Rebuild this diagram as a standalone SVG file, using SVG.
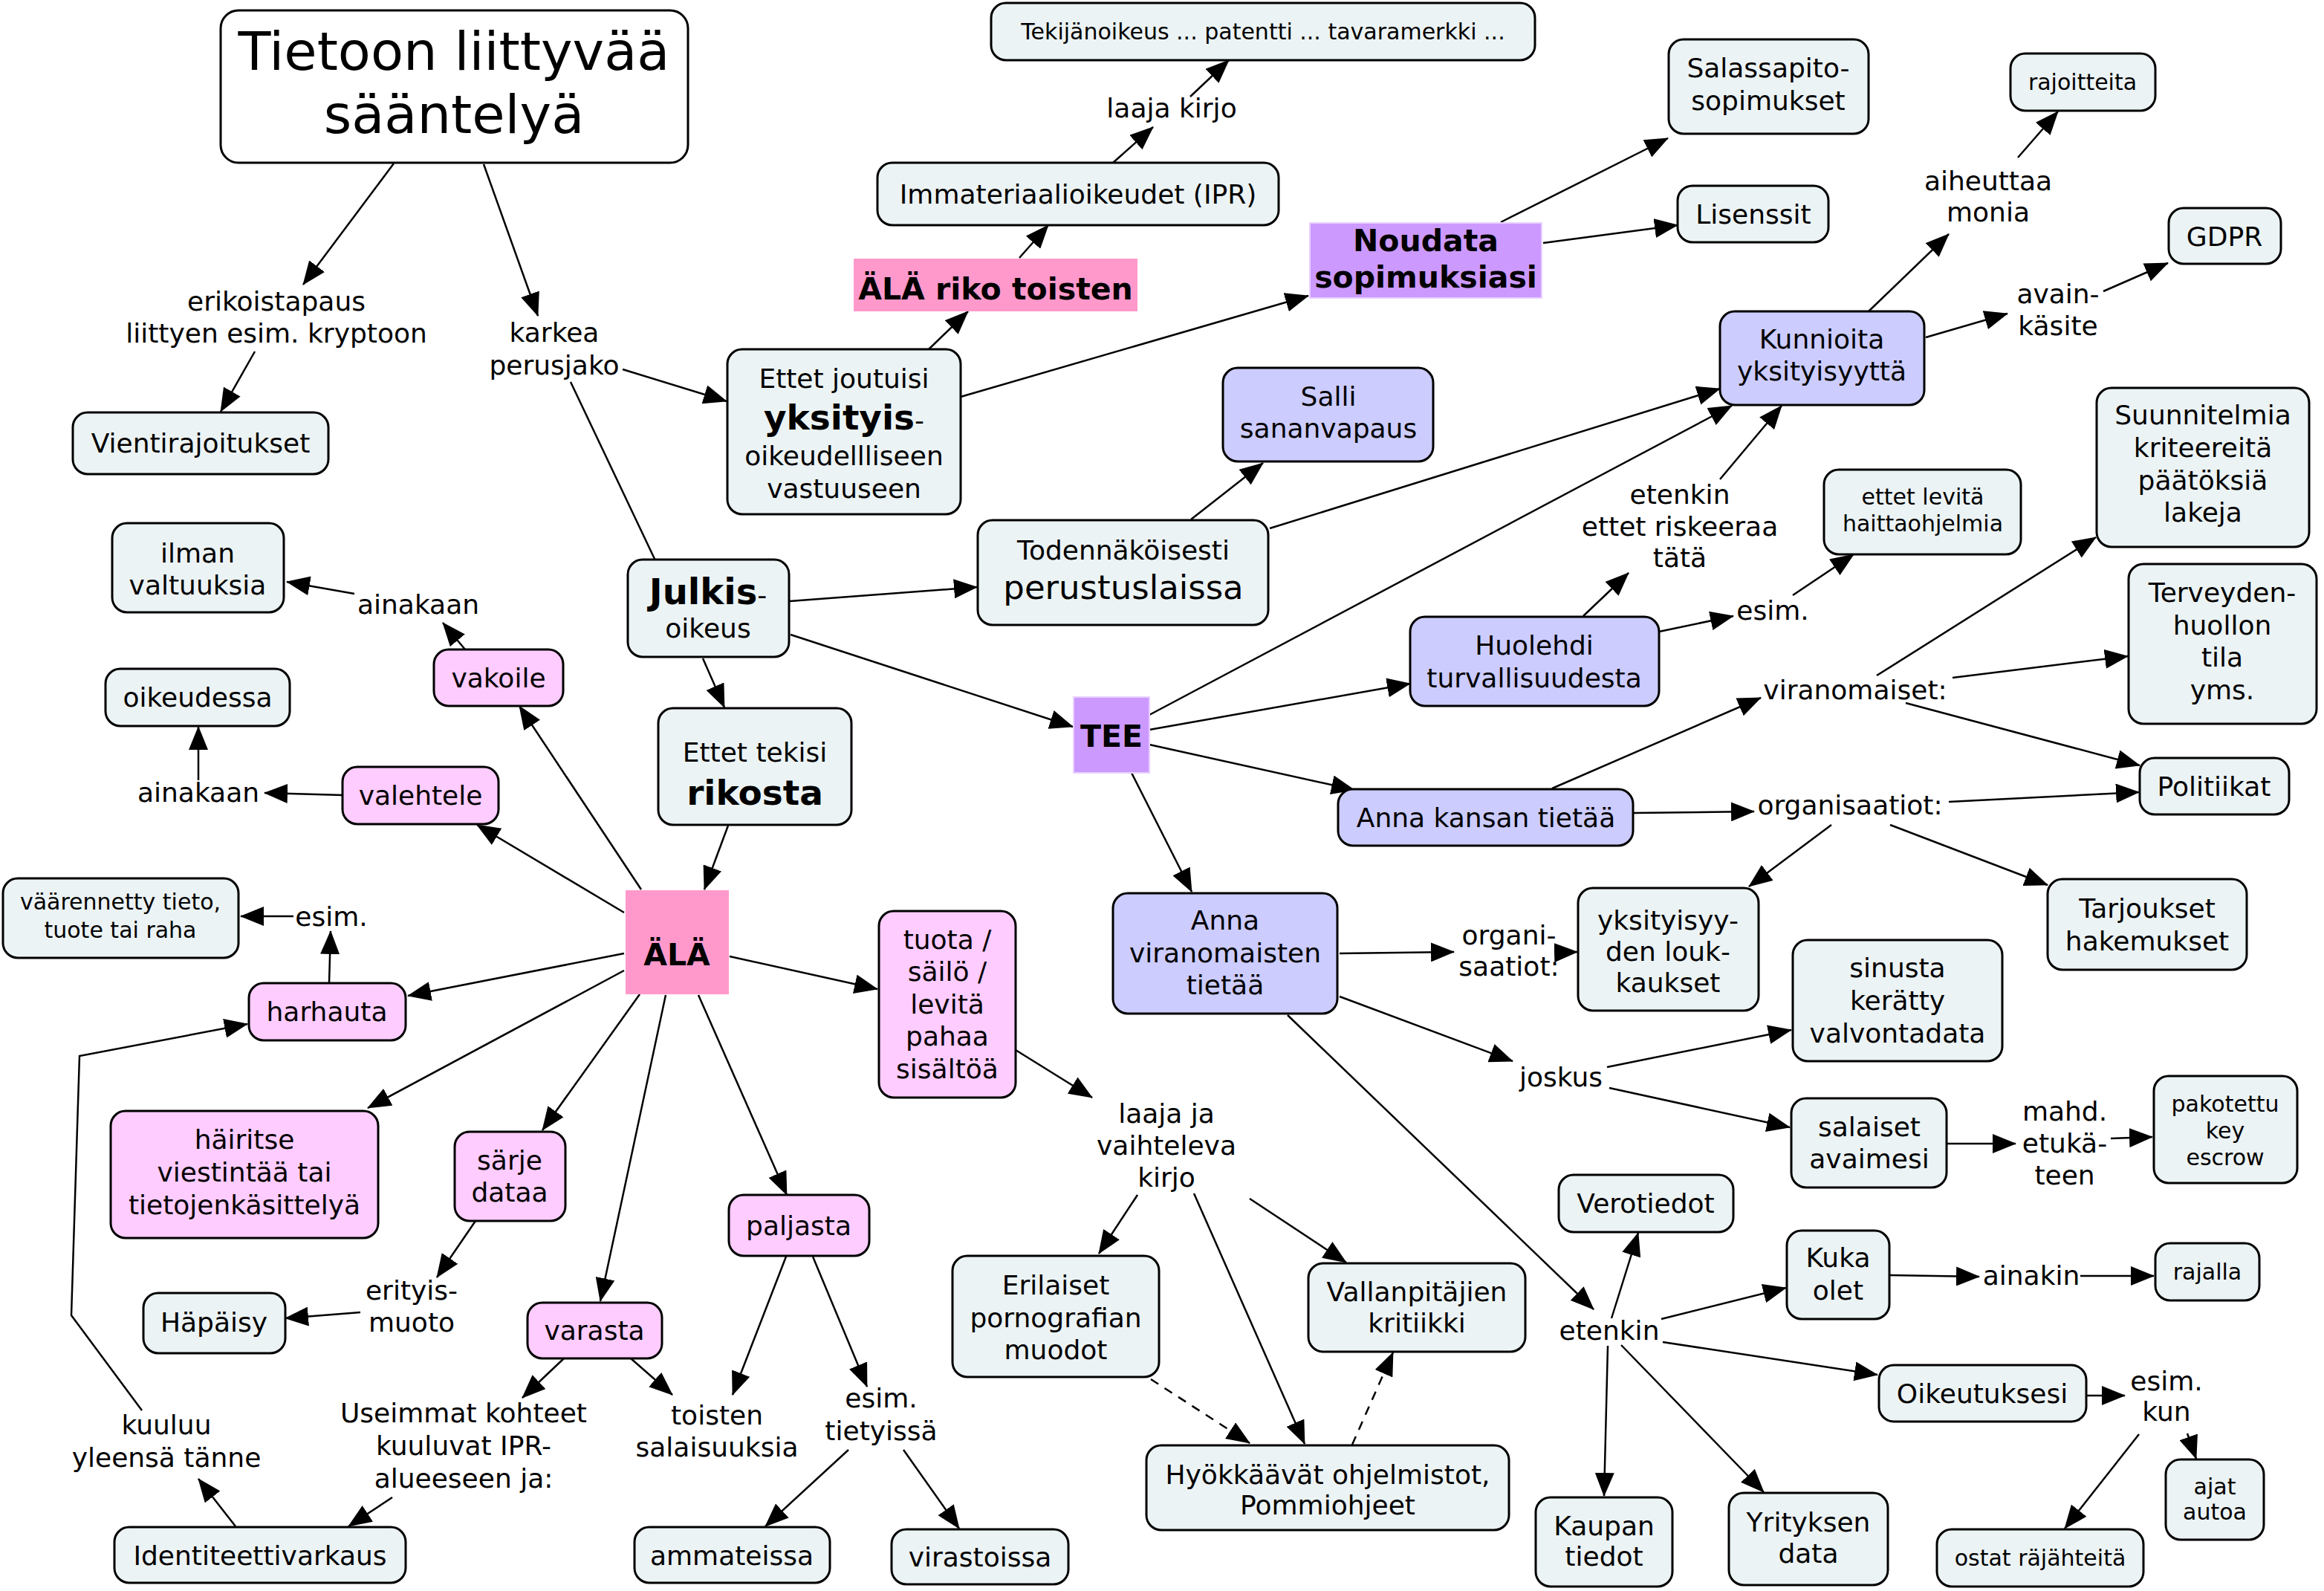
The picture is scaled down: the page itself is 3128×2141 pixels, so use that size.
<svg xmlns="http://www.w3.org/2000/svg" width="3128" height="2141" viewBox="0 0 3128 2141">
<defs>
<marker id="ah" viewBox="0 0 32 26" refX="31" refY="13" markerWidth="32" markerHeight="26" markerUnits="userSpaceOnUse" orient="auto"><path d="M0,0 L32,13 L0,26 z" fill="#000"/></marker>
<style>
text{font-family:"DejaVu Sans",Verdana,sans-serif;font-size:36px;text-anchor:middle;fill:#000}
.s{font-size:30px}
.b{font-weight:bold;font-size:41px}
.g rect{fill:#ECF3F4;stroke:#000;stroke-width:3}
.p rect{fill:#FFCCFF;stroke:#000;stroke-width:3}
.l rect{fill:#CCCCFF;stroke:#000;stroke-width:3}
.hp rect{fill:#FF99CC;stroke:none}
.pu rect{fill:#CC99FF;stroke:#E8D0FF;stroke-width:2}
#edges line,#edges polyline{stroke:#000;stroke-width:2.5;fill:none;marker-end:url(#ah)}
#edges .na{marker-end:none}
#edges .d{stroke-dasharray:12 10}
</style>
</defs>
<rect width="3128" height="2141" fill="#fff"/>
<g id="edges">
<line x1="530" y1="220" x2="408" y2="383"/>
<line x1="343" y1="473" x2="297" y2="554"/>
<line x1="651" y1="221" x2="724" y2="425"/>
<line x1="838" y1="497" x2="978" y2="540"/>
<line class="na" x1="768" y1="514" x2="881" y2="752"/>
<line x1="1249" y1="471" x2="1303" y2="419"/>
<line x1="1372" y1="347" x2="1411" y2="303"/>
<line x1="1498" y1="219" x2="1552" y2="171"/>
<line x1="1602" y1="130" x2="1654" y2="81"/>
<line x1="1293" y1="534" x2="1761" y2="398"/>
<line x1="2020" y1="299" x2="2245" y2="186"/>
<line x1="2077" y1="327" x2="2258" y2="303"/>
<line x1="1603" y1="699" x2="1700" y2="623"/>
<line x1="1709" y1="711" x2="2315" y2="523"/>
<line x1="1547" y1="962" x2="2331" y2="546"/>
<line x1="2131" y1="829" x2="2192" y2="771"/>
<line x1="2315" y1="645" x2="2398" y2="546"/>
<line x1="2233" y1="850" x2="2333" y2="829"/>
<line x1="2413" y1="801" x2="2495" y2="746"/>
<line x1="2515" y1="419" x2="2623" y2="315"/>
<line x1="2716" y1="212" x2="2770" y2="150"/>
<line x1="2592" y1="454" x2="2702" y2="422"/>
<line x1="2831" y1="392" x2="2918" y2="354"/>
<line x1="1063" y1="809" x2="1315" y2="790"/>
<line x1="1064" y1="854" x2="1444" y2="978"/>
<line x1="946" y1="886" x2="975" y2="952"/>
<line x1="980" y1="1111" x2="948" y2="1197"/>
<line x1="1547" y1="982" x2="1898" y2="920"/>
<line x1="1547" y1="1002" x2="1823" y2="1063"/>
<line x1="1523" y1="1040" x2="1604" y2="1200"/>
<line x1="2089" y1="1061" x2="2370" y2="939"/>
<line x1="2526" y1="909" x2="2821" y2="723"/>
<line x1="2628" y1="912" x2="2864" y2="883"/>
<line x1="2565" y1="946" x2="2880" y2="1030"/>
<line x1="2198" y1="1094" x2="2361" y2="1092"/>
<line x1="2623" y1="1079" x2="2879" y2="1066"/>
<line x1="2465" y1="1110" x2="2354" y2="1193"/>
<line x1="2544" y1="1110" x2="2756" y2="1191"/>
<line x1="1803" y1="1283" x2="1957" y2="1281"/>
<line x1="2093" y1="1282" x2="2123" y2="1281"/>
<line x1="1803" y1="1341" x2="2036" y2="1428"/>
<line x1="2163" y1="1436" x2="2411" y2="1386"/>
<line x1="2166" y1="1464" x2="2409" y2="1517"/>
<line x1="2620" y1="1539" x2="2713" y2="1539"/>
<line x1="2841" y1="1532" x2="2897" y2="1530"/>
<line x1="1733" y1="1366" x2="2145" y2="1762"/>
<line x1="2169" y1="1774" x2="2205" y2="1659"/>
<line x1="2236" y1="1775" x2="2404" y2="1733"/>
<line x1="2544" y1="1716" x2="2664" y2="1718"/>
<line x1="2800" y1="1717" x2="2899" y2="1717"/>
<line x1="2238" y1="1806" x2="2527" y2="1850"/>
<line x1="2808" y1="1878" x2="2860" y2="1878"/>
<line x1="2879" y1="1930" x2="2779" y2="2057"/>
<line x1="2944" y1="1929" x2="2956" y2="1963"/>
<line x1="2164" y1="1811" x2="2159" y2="2013"/>
<line x1="2182" y1="1810" x2="2374" y2="2008"/>
<line x1="863" y1="1197" x2="699" y2="950"/>
<line x1="626" y1="874" x2="596" y2="838"/>
<line x1="477" y1="799" x2="386" y2="783"/>
<line x1="840" y1="1228" x2="642" y2="1110"/>
<line x1="461" y1="1070" x2="356" y2="1067"/>
<line x1="267" y1="1050" x2="267" y2="978"/>
<line x1="840" y1="1283" x2="549" y2="1340"/>
<line x1="443" y1="1323" x2="445" y2="1253"/>
<line x1="395" y1="1233" x2="324" y2="1233"/>
<line x1="317" y1="2054" x2="267" y2="1990"/>
<polyline points="191,1898 96,1770 107,1421 333,1378"/>
<line x1="840" y1="1306" x2="495" y2="1491"/>
<line x1="861" y1="1338" x2="730" y2="1521"/>
<line x1="640" y1="1643" x2="588" y2="1719"/>
<line x1="485" y1="1766" x2="384" y2="1774"/>
<line x1="896" y1="1339" x2="808" y2="1751"/>
<line x1="759" y1="1828" x2="703" y2="1881"/>
<line x1="849" y1="1828" x2="905" y2="1877"/>
<line x1="528" y1="2015" x2="469" y2="2054"/>
<line x1="940" y1="1339" x2="1059" y2="1608"/>
<line x1="1058" y1="1691" x2="986" y2="1877"/>
<line x1="1094" y1="1691" x2="1167" y2="1866"/>
<line x1="1142" y1="1951" x2="1030" y2="2054"/>
<line x1="1216" y1="1951" x2="1291" y2="2057"/>
<line x1="982" y1="1287" x2="1181" y2="1331"/>
<line x1="1367" y1="1413" x2="1470" y2="1477"/>
<line x1="1531" y1="1608" x2="1479" y2="1687"/>
<line x1="1607" y1="1606" x2="1756" y2="1943"/>
<line x1="1682" y1="1613" x2="1812" y2="1699"/>
<line class="d" x1="1549" y1="1856" x2="1682" y2="1942"/>
<line class="d" x1="1820" y1="1944" x2="1875" y2="1820"/>
</g>
<g id="n-title"><rect x="297" y="14" width="629" height="205" rx="24" fill="#fff" stroke="#000" stroke-width="3"/><text x="611" y="94" style="font-size:72px">Tietoon liittyvää</text><text x="611" y="179" style="font-size:72px">sääntelyä</text></g>
<g id="n-vienti" class="g"><rect x="98" y="555" width="344" height="83" rx="20"/><text x="270" y="609">Vientirajoitukset</text></g>
<g id="l-erikois"><text x="372" y="418">erikoistapaus</text><text x="372" y="461">liittyen esim. kryptoon</text></g>
<g id="l-karkea"><text x="746" y="460">karkea</text><text x="746" y="504">perusjako</text></g>
<g id="n-yksityis" class="g"><rect x="979" y="470" width="314" height="222" rx="20"/><text x="1136" y="522">Ettet joutuisi</text><text x="1136" y="578"><tspan style="font-weight:bold;font-size:47px">yksityis</tspan>-</text><text x="1136" y="626">oikeudellliseen</text><text x="1136" y="670">vastuuseen</text></g>
<g id="n-alariko" class="hp"><rect x="1149" y="348" width="382" height="71"/><text class="b" x="1340" y="403">ÄLÄ riko toisten</text></g>
<g id="n-ipr" class="g"><rect x="1181" y="219" width="540" height="84" rx="20"/><text x="1451" y="274">Immateriaalioikeudet (IPR)</text></g>
<g id="l-laajakirjo"><text x="1577" y="158">laaja kirjo</text></g>
<g id="n-tekija" class="g"><rect x="1334" y="4" width="732" height="77" rx="20"/><text class="s" x="1700" y="53">Tekijänoikeus ... patentti ... tavaramerkki ...</text></g>
<g id="n-noudata" class="pu"><rect x="1763" y="300" width="312" height="101"/><text class="b" x="1919" y="338">Noudata</text><text class="b" x="1919" y="387">sopimuksiasi</text></g>
<g id="n-salassa" class="g"><rect x="2246" y="53" width="269" height="127" rx="20"/><text x="2380" y="104">Salassapito-</text><text x="2380" y="148">sopimukset</text></g>
<g id="n-lisenssit" class="g"><rect x="2258" y="250" width="203" height="76" rx="20"/><text x="2360" y="301">Lisenssit</text></g>
<g id="n-rajoitteita" class="g"><rect x="2706" y="72" width="195" height="77" rx="20"/><text class="s" x="2803" y="121">rajoitteita</text></g>
<g id="l-aiheuttaa"><text x="2676" y="256">aiheuttaa</text><text x="2676" y="298">monia</text></g>
<g id="n-gdpr" class="g"><rect x="2919" y="280" width="151" height="75" rx="20"/><text x="2994" y="331">GDPR</text></g>
<g id="l-avain"><text x="2770" y="408">avain-</text><text x="2770" y="451">käsite</text></g>
<g id="n-kunnioita" class="l"><rect x="2315" y="419" width="275" height="126" rx="20"/><text x="2452" y="469">Kunnioita</text><text x="2452" y="512">yksityisyyttä</text></g>
<g id="n-suunnitelmia" class="g"><rect x="2822" y="522" width="286" height="214" rx="20"/><text x="2965" y="571">Suunnitelmia</text><text x="2965" y="615">kriteereitä</text><text x="2965" y="659">päätöksiä</text><text x="2965" y="702">lakeja</text></g>
<g id="n-haitta" class="g"><rect x="2455" y="632" width="265" height="114" rx="20"/><text class="s" x="2588" y="679">ettet levitä</text><text class="s" x="2588" y="715">haittaohjelmia</text></g>
<g id="l-etenkin1"><text x="2261" y="678">etenkin</text><text x="2261" y="721">ettet riskeeraa</text><text x="2261" y="763">tätä</text></g>
<g id="n-huolehdi" class="l"><rect x="1898" y="830" width="335" height="120" rx="20"/><text x="2065" y="881">Huolehdi</text><text x="2065" y="925">turvallisuudesta</text></g>
<g id="l-esim1"><text x="2386" y="834">esim.</text></g>
<g id="l-viranomaiset"><text x="2497" y="941">viranomaiset:</text></g>
<g id="l-organisaatiot"><text x="2490" y="1096">organisaatiot:</text></g>
<g id="n-terveys" class="g"><rect x="2865" y="759" width="253" height="215" rx="20"/><text x="2991" y="810">Terveyden-</text><text x="2991" y="854">huollon</text><text x="2991" y="897">tila</text><text x="2991" y="941">yms.</text></g>
<g id="n-politiikat" class="g"><rect x="2880" y="1020" width="201" height="76" rx="20"/><text x="2980" y="1071">Politiikat</text></g>
<g id="n-tarjoukset" class="g"><rect x="2756" y="1183" width="268" height="122" rx="20"/><text x="2890" y="1235">Tarjoukset</text><text x="2890" y="1279">hakemukset</text></g>
<g id="n-loukkaukset" class="g"><rect x="2124" y="1195" width="243" height="165" rx="20"/><text x="2245" y="1251">yksityisyy-</text><text x="2245" y="1293">den louk-</text><text x="2245" y="1335">kaukset</text></g>
<g id="n-sinusta" class="g"><rect x="2413" y="1265" width="282" height="163" rx="20"/><text x="2554" y="1315">sinusta</text><text x="2554" y="1359">kerätty</text><text x="2554" y="1403">valvontadata</text></g>
<g id="n-kansan" class="l"><rect x="1801" y="1062" width="397" height="76" rx="20"/><text x="2000" y="1113">Anna kansan tietää</text></g>
<g id="n-tee" class="pu"><rect x="1445" y="938" width="102" height="102"/><text class="b" x="1496" y="1005">TEE</text></g>
<g id="n-viranom" class="l"><rect x="1498" y="1202" width="302" height="162" rx="20"/><text x="1649" y="1251">Anna</text><text x="1649" y="1295">viranomaisten</text><text x="1649" y="1338">tietää</text></g>
<g id="l-organi"><text x="2031" y="1271">organi-</text><text x="2031" y="1313">saatiot:</text></g>
<g id="n-perustus" class="g"><rect x="1316" y="700" width="391" height="141" rx="20"/><text x="1512" y="753">Todennäköisesti</text><text x="1512" y="806" style="font-size:45px">perustuslaissa</text></g>
<g id="n-salli" class="l"><rect x="1646" y="495" width="283" height="126" rx="20"/><text x="1788" y="546">Salli</text><text x="1788" y="589">sananvapaus</text></g>
<g id="n-julkis" class="g"><rect x="845" y="753" width="217" height="131" rx="20"/><text x="953" y="813"><tspan style="font-weight:bold;font-size:48px">Julkis</tspan>-</text><text x="953" y="858">oikeus</text></g>
<g id="n-rikosta" class="g"><rect x="886" y="953" width="260" height="157" rx="20"/><text x="1016" y="1025">Ettet tekisi</text><text x="1016" y="1083" style="font-weight:bold;font-size:47px">rikosta</text></g>
<g id="n-ala" class="hp"><rect x="842" y="1198" width="139" height="140"/><text class="b" x="911" y="1299">ÄLÄ</text></g>
<g id="n-ilman" class="g"><rect x="151" y="704" width="231" height="120" rx="20"/><text x="266" y="757">ilman</text><text x="266" y="800">valtuuksia</text></g>
<g id="l-ainakaan1"><text x="563" y="826">ainakaan</text></g>
<g id="n-vakoile" class="p"><rect x="584" y="874" width="174" height="76" rx="20"/><text x="671" y="925">vakoile</text></g>
<g id="n-oikeudessa" class="g"><rect x="142" y="900" width="248" height="77" rx="20"/><text x="266" y="951">oikeudessa</text></g>
<g id="l-ainakaan2"><text x="267" y="1079">ainakaan</text></g>
<g id="n-valehtele" class="p"><rect x="461" y="1032" width="210" height="77" rx="20"/><text x="566" y="1083">valehtele</text></g>
<g id="n-vaarennetty" class="g"><rect x="4" y="1182" width="317" height="107" rx="20"/><text class="s" x="162" y="1224">väärennetty tieto,</text><text class="s" x="162" y="1262">tuote tai raha</text></g>
<g id="l-esim2"><text x="446" y="1246">esim.</text></g>
<g id="n-harhauta" class="p"><rect x="335" y="1323" width="211" height="77" rx="20"/><text x="440" y="1374">harhauta</text></g>
<g id="n-hairitse" class="p"><rect x="149" y="1495" width="360" height="171" rx="20"/><text x="329" y="1546">häiritse</text><text x="329" y="1590">viestintää tai</text><text x="329" y="1634">tietojenkäsittelyä</text></g>
<g id="n-sarje" class="p"><rect x="612" y="1523" width="149" height="120" rx="20"/><text x="686" y="1574">särje</text><text x="686" y="1617">dataa</text></g>
<g id="l-erityis"><text x="554" y="1749">erityis-</text><text x="554" y="1792">muoto</text></g>
<g id="n-hapaisy" class="g"><rect x="193" y="1740" width="191" height="81" rx="20"/><text x="288" y="1792">Häpäisy</text></g>
<g id="n-varasta" class="p"><rect x="710" y="1753" width="181" height="75" rx="20"/><text x="800" y="1803">varasta</text></g>
<g id="l-useimmat"><text x="624" y="1914">Useimmat kohteet</text><text x="624" y="1958">kuuluvat IPR-</text><text x="624" y="2002">alueeseen ja:</text></g>
<g id="l-toisten"><text x="965" y="1917">toisten</text><text x="965" y="1960">salaisuuksia</text></g>
<g id="l-kuuluu"><text x="224" y="1930">kuuluu</text><text x="224" y="1974">yleensä tänne</text></g>
<g id="n-identiteetti" class="g"><rect x="154" y="2055" width="392" height="75" rx="20"/><text x="350" y="2106">Identiteettivarkaus</text></g>
<g id="n-ammateissa" class="g"><rect x="854" y="2055" width="263" height="75" rx="20"/><text x="985" y="2106">ammateissa</text></g>
<g id="n-paljasta" class="p"><rect x="981" y="1608" width="189" height="82" rx="20"/><text x="1075" y="1662">paljasta</text></g>
<g id="l-esim3"><text x="1186" y="1894">esim.</text><text x="1186" y="1938">tietyissä</text></g>
<g id="n-virastoissa" class="g"><rect x="1200" y="2058" width="238" height="74" rx="20"/><text x="1319" y="2108">virastoissa</text></g>
<g id="n-tuota" class="p"><rect x="1183" y="1226" width="184" height="251" rx="20"/><text x="1275" y="1277">tuota /</text><text x="1275" y="1320">säilö /</text><text x="1275" y="1364">levitä</text><text x="1275" y="1407">pahaa</text><text x="1275" y="1451">sisältöä</text></g>
<g id="l-laajaja"><text x="1570" y="1511">laaja ja</text><text x="1570" y="1554">vaihteleva</text><text x="1570" y="1597">kirjo</text></g>
<g id="n-erilaiset" class="g"><rect x="1282" y="1690" width="278" height="163" rx="20"/><text x="1421" y="1742">Erilaiset</text><text x="1421" y="1786">pornografian</text><text x="1421" y="1829">muodot</text></g>
<g id="n-vallan" class="g"><rect x="1761" y="1700" width="292" height="119" rx="20"/><text x="1907" y="1751">Vallanpitäjien</text><text x="1907" y="1793">kritiikki</text></g>
<g id="n-hyokkaavat" class="g"><rect x="1543" y="1945" width="488" height="114" rx="20"/><text x="1787" y="1997">Hyökkäävät ohjelmistot,</text><text x="1787" y="2038">Pommiohjeet</text></g>
<g id="l-etenkin2"><text x="2166" y="1803">etenkin</text></g>
<g id="n-vero" class="g"><rect x="2098" y="1581" width="235" height="77" rx="20"/><text x="2215" y="1632">Verotiedot</text></g>
<g id="n-kuka" class="g"><rect x="2405" y="1656" width="138" height="119" rx="20"/><text x="2474" y="1705">Kuka</text><text x="2474" y="1749">olet</text></g>
<g id="l-ainakin"><text x="2734" y="1729">ainakin</text></g>
<g id="n-rajalla" class="g"><rect x="2901" y="1673" width="140" height="77" rx="20"/><text class="s" x="2971" y="1722">rajalla</text></g>
<g id="n-oikeutuksesi" class="g"><rect x="2529" y="1837" width="279" height="76" rx="20"/><text x="2668" y="1888">Oikeutuksesi</text></g>
<g id="l-esimkun"><text x="2916" y="1871">esim.</text><text x="2916" y="1912">kun</text></g>
<g id="n-ostat" class="g"><rect x="2607" y="2058" width="278" height="77" rx="20"/><text class="s" x="2746" y="2107">ostat räjähteitä</text></g>
<g id="n-ajat" class="g"><rect x="2915" y="1964" width="132" height="108" rx="20"/><text class="s" x="2981" y="2011">ajat</text><text class="s" x="2981" y="2045">autoa</text></g>
<g id="n-kaupan" class="g"><rect x="2067" y="2015" width="184" height="120" rx="20"/><text x="2159" y="2066">Kaupan</text><text x="2159" y="2107">tiedot</text></g>
<g id="n-yrityksen" class="g"><rect x="2327" y="2009" width="214" height="124" rx="20"/><text x="2434" y="2061">Yrityksen</text><text x="2434" y="2103">data</text></g>
<g id="n-salaiset" class="g"><rect x="2411" y="1478" width="209" height="120" rx="20"/><text x="2516" y="1529">salaiset</text><text x="2516" y="1572">avaimesi</text></g>
<g id="l-mahd"><text x="2779" y="1508">mahd.</text><text x="2779" y="1551">etukä-</text><text x="2779" y="1594">teen</text></g>
<g id="n-pakotettu" class="g"><rect x="2899" y="1448" width="193" height="144" rx="20"/><text class="s" x="2995" y="1496">pakotettu</text><text class="s" x="2995" y="1532">key</text><text class="s" x="2995" y="1568">escrow</text></g>
<g id="l-joskus"><text x="2101" y="1462">joskus</text></g>
</svg>
